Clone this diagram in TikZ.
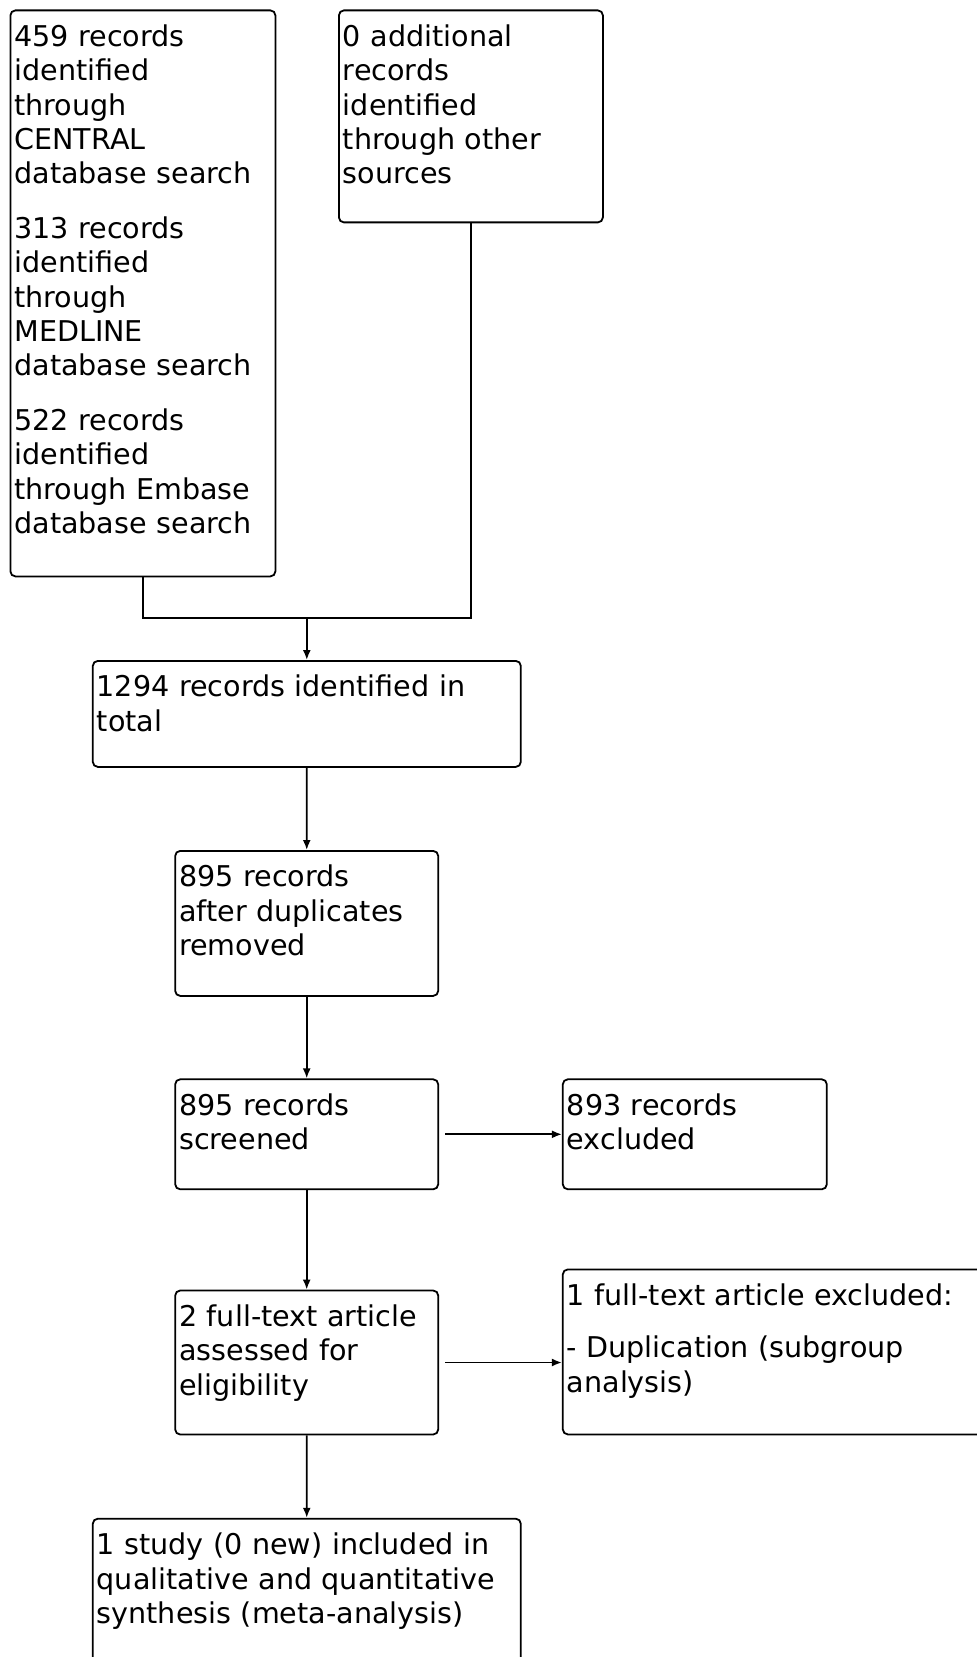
\documentclass[tikz,border=0pt]{standalone}
\usepackage{fontspec}
\setmainfont{DejaVu Sans}
\usepackage{tikz}
\usetikzlibrary{arrows.meta}

\tikzset{
  box/.style 2 args={draw, rounded corners=2.5pt, anchor=north west, align=left,
    inner sep=2pt, text height=16pt, text width=#1, text depth=#2,
    font=\fontsize{14.3pt}{17.2pt}\selectfont},
}

\begin{document}
\begin{tikzpicture}[x=0.5pt,y=-0.5pt,>={Latex[length=5pt,width=4pt]},line width=0.9pt]
  % page: 977 by 1657 (y runs down)
  \useasboundingbox (0,0) rectangle (977,1657);
  \clip (0,0) rectangle (977,1657);

  % Identification
  \node[box={128.5pt}{263pt}] (central) at (9.5,9.5)
  {459 records\\identified\\through\\CENTRAL\\database search\\[10pt]
   313 records\\identified\\through\\MEDLINE\\database search\\[10pt]
   522 records\\identified\\through Embase\\database search};
  \node[box={128pt}{86pt}] (other) at (338,9.5)
  {0 additional\\records\\identified\\through other\\sources};
  \node[box={210pt}{33pt}] (total) at (91.9,660)
  {1294 records identified in\\total};

  % Screening
  \node[box={127.5pt}{52.5pt}] (dedup) at (174.3,850)
  {895 records\\after duplicates\\removed};
  \node[box={127.5pt}{35pt}] (screen) at (174.3,1078.4)
  {895 records\\screened};
  \node[box={128pt}{35pt}] (excl) at (561.9,1078.4)
  {893 records\\excluded};

  % Eligibility
  \node[box={127.5pt}{52pt}] (fulltext) at (174.3,1289.6)
  {2 full-text article\\assessed for\\eligibility};
  \node[box={215pt}{62.5pt}] (ftexcl) at (561.9,1268.5)
  {1 full-text article excluded:\\[9pt]- Duplication (subgroup\\analysis)};

  % Included
  \node[box={210pt}{71pt}] (incl) at (91.9,1517.8)
  {1 study (0 new) included in\\qualitative and quantitative\\synthesis (meta-analysis)};

  % Connectors
  \coordinate (merge) at (total.north |- 0,618);
  \draw (central.south) |- (merge) -| (other.south);
  \draw[->] (merge) -- (total.north);
  \draw[->] (total) -- (dedup);
  \draw[->] (dedup) -- (screen);
  \draw[->,shorten <=3pt] (screen) -- (excl);
  \draw[->] (screen) -- (fulltext);
  \draw[->,shorten <=3pt] (fulltext.east) -- (fulltext.east -| ftexcl.west);
  \draw[->] (fulltext) -- (incl);
\end{tikzpicture}
\end{document}
